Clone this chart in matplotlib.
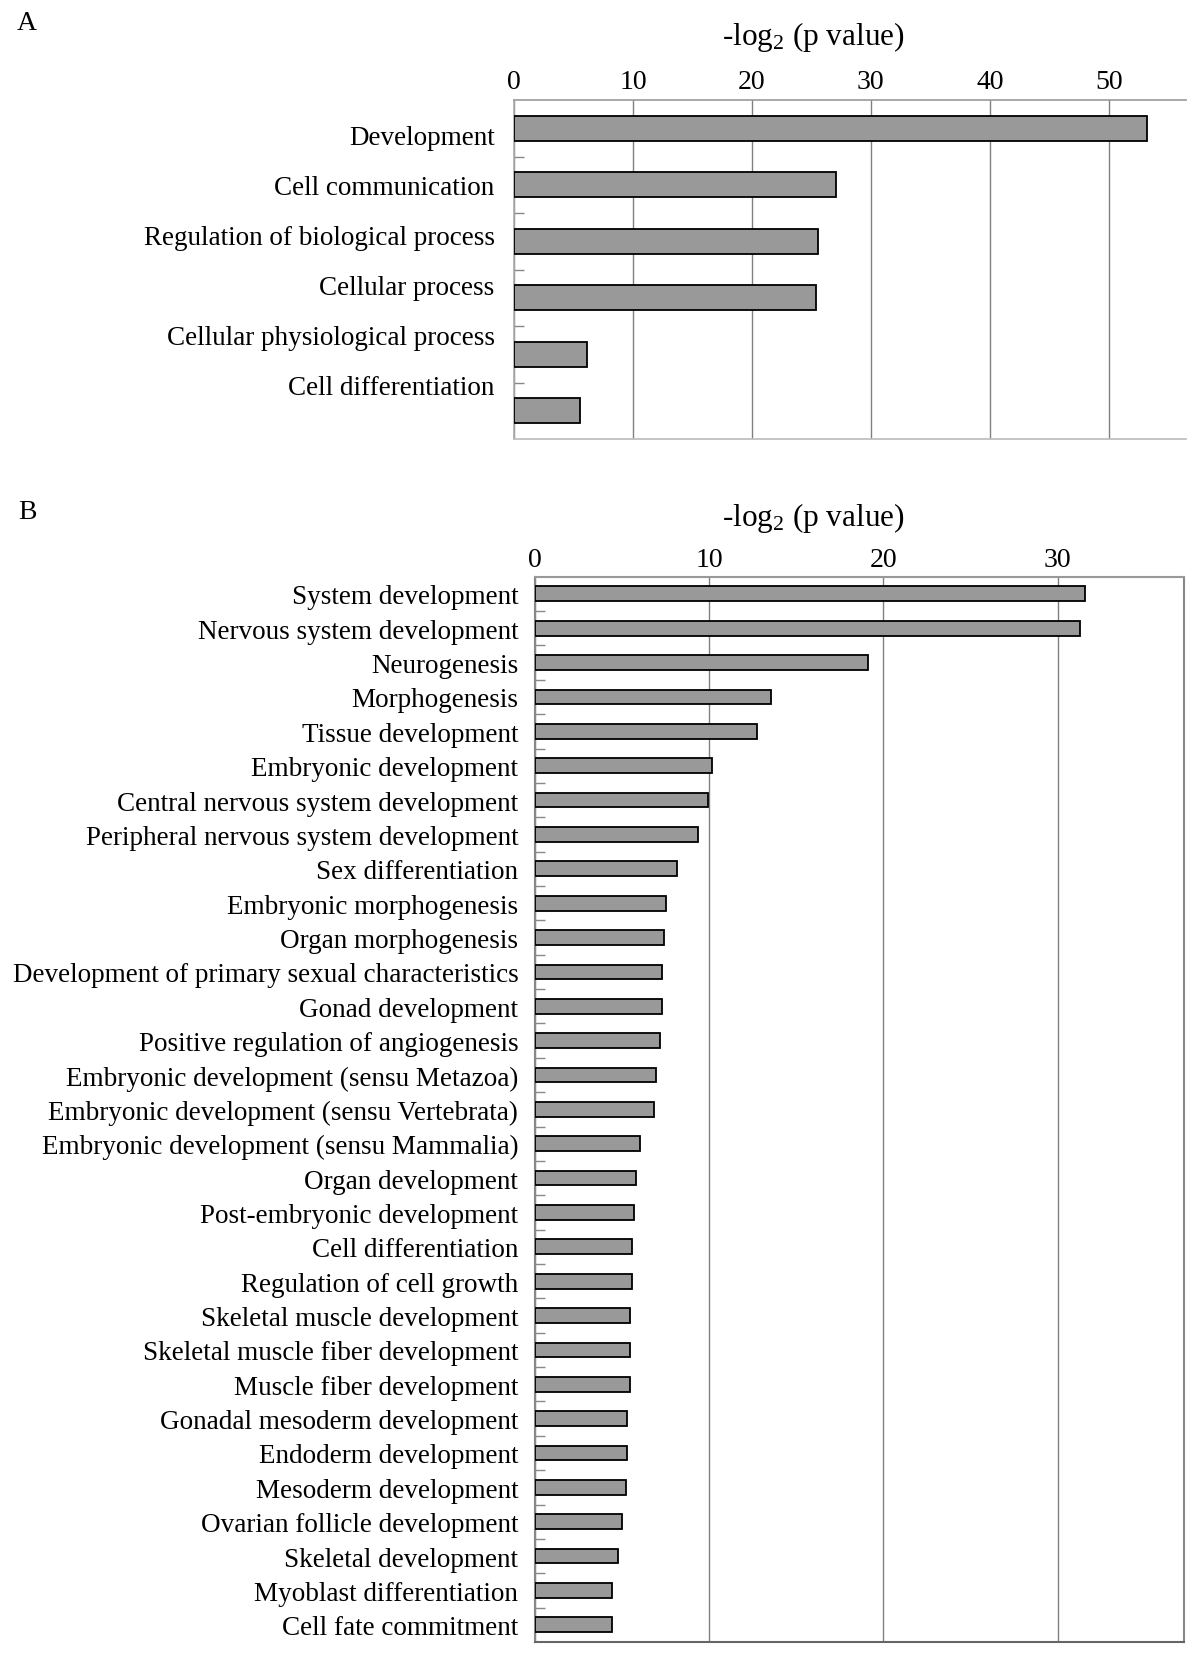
import numpy as np
import matplotlib
matplotlib.use("Agg")
import matplotlib.pyplot as plt

plt.rcParams["font.family"] = ["Liberation Serif", "DejaVu Serif"]
plt.rcParams["mathtext.fontset"] = "custom"
plt.rcParams["mathtext.rm"] = "Liberation Serif"
plt.rcParams["mathtext.it"] = "Liberation Serif:italic"

# ---- panel A data ----
a_terms = ["Development", "Cell communication", "Regulation of biological process",
           "Cellular process", "Cellular physiological process", "Cell differentiation"]
a_vals = [53.2, 27.05, 25.6, 25.35, 6.1, 5.55]
a_ticks = [0, 10, 20, 30, 40, 50]

# ---- panel B data ----
b_terms = ["System development", "Nervous system development", "Neurogenesis",
           "Morphogenesis", "Tissue development", "Embryonic development",
           "Central nervous system development", "Peripheral nervous system development",
           "Sex differentiation", "Embryonic morphogenesis", "Organ morphogenesis",
           "Development of primary sexual characteristics", "Gonad development",
           "Positive regulation of angiogenesis", "Embryonic development (sensu Metazoa)",
           "Embryonic development (sensu Vertebrata)", "Embryonic development (sensu Mammalia)",
           "Organ development", "Post-embryonic development", "Cell differentiation",
           "Regulation of cell growth", "Skeletal muscle development",
           "Skeletal muscle fiber development", "Muscle fiber development",
           "Gonadal mesoderm development", "Endoderm development", "Mesoderm development",
           "Ovarian follicle development", "Skeletal development",
           "Myoblast differentiation", "Cell fate commitment"]
b_vals = [31.55, 31.3, 19.1, 13.55, 12.77, 10.15, 9.94, 9.37, 8.17, 7.5, 7.38,
          7.29, 7.29, 7.17, 6.94, 6.83, 6.0, 5.8, 5.66, 5.55, 5.55, 5.45, 5.45,
          5.45, 5.3, 5.3, 5.2, 4.97, 4.77, 4.4, 4.4]
b_ticks = [0, 10, 20, 30]

BAR = "#999999"
FS = 19.5    # category labels
FS_T = 20    # tick numbers
FS_H = 22.5  # axis heading

fig = plt.figure(figsize=(12, 16.56), dpi=100)


def style(ax, vals, terms, ticks, xmax, h, label_y, pad_lab, pad_top):
    y = np.arange(len(vals))
    ax.barh(y, vals, height=h, color=BAR, edgecolor="black", lw=1.3, zorder=3)
    ax.set_xlim(0, xmax)
    ax.set_ylim(len(vals) - 0.5, -0.5)
    ax.set_xticks(ticks)
    ax.xaxis.tick_top()
    ax.tick_params(axis="x", length=0, labelsize=FS_T, pad=pad_top)
    ax.set_yticks(label_y)
    ax.set_yticklabels(terms)
    ax.tick_params(axis="y", which="major", length=0, labelsize=FS, pad=pad_lab)
    ax.set_yticks(y[:-1] + 0.5, minor=True)
    ax.tick_params(axis="y", which="minor", direction="in", length=7, width=1,
                   color="#888888")
    ax.grid(axis="x", color="#808080", lw=1, zorder=0)


# panel A
axA = fig.add_axes([514 / 1200, 1 - 440 / 1656, 672 / 1200, 339 / 1656])
nA = len(a_vals)
style(axA, a_vals, a_terms, a_ticks, 56.5, 0.45,
      0.115 + 0.883 * np.arange(nA), 14, 4.5)
axA.spines["right"].set_visible(False)
axA.spines["top"].set_color("#999999")
axA.spines["left"].set_color("#aaaaaa")
axA.spines["bottom"].set_color("#bbbbbb")
for s in axA.spines.values():
    s.set_linewidth(1.2)

# panel B
axB = fig.add_axes([535 / 1200, 1 - 1643 / 1656, 649 / 1200, 1065.3 / 1656])
nB = len(b_vals)
style(axB, b_vals, b_terms, b_ticks, 37.25, 0.43, np.arange(nB), 12, 3.5)
axB.spines["top"].set_color("#999999")
axB.spines["right"].set_color("#888888")
axB.spines["left"].set_color("#888888")
axB.spines["bottom"].set_color("#666666")
for s in axB.spines.values():
    s.set_linewidth(1.5)

fig.text(813 / 1200, 1 - 37 / 1656, r"-log$_\mathrm{2}$ (p value)", ha="center",
         va="center", fontsize=FS_H)
fig.text(813 / 1200, 1 - 518 / 1656, r"-log$_\mathrm{2}$ (p value)", ha="center",
         va="center", fontsize=FS_H)
fig.text(27 / 1200, 1 - 23 / 1656, "A", ha="center", va="center", fontsize=20)
fig.text(27 / 1200, 1 - 513 / 1656, "B", ha="center", va="center", fontsize=20)

fig.savefig("out.png", dpi=100)
